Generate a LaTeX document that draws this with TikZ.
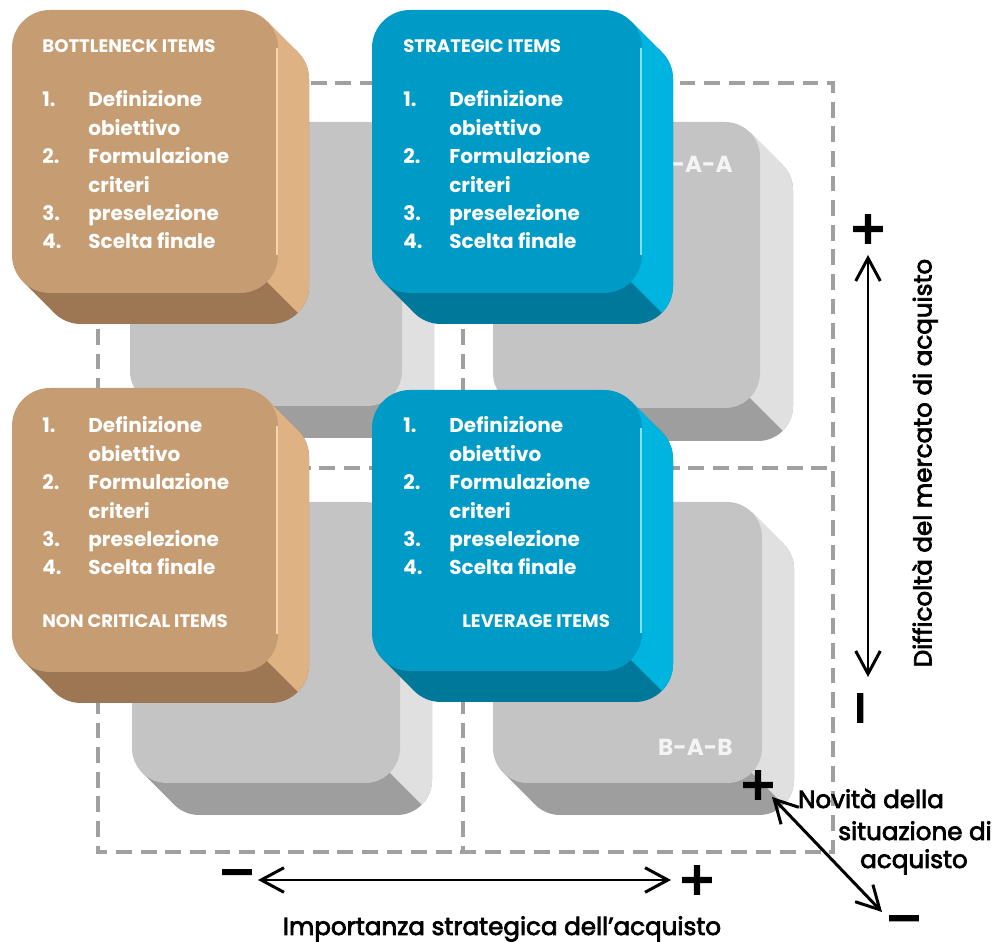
\documentclass[tikz,border=0pt]{standalone}
\usepackage{fontspec}
\setmainfont{Poppins}
\newfontfamily\symfont[FakeBold=2]{DejaVu Sans}
\newfontfamily\axfont[FakeBold=3]{Poppins}
\usetikzlibrary{arrows.meta}
\definecolor{tanF}{HTML}{C69C72}
\definecolor{tanR}{HTML}{DEB283}
\definecolor{tanB}{HTML}{9D7753}
\definecolor{tanH}{HTML}{F3D6B0}
\definecolor{bluF}{HTML}{009AC6}
\definecolor{bluR}{HTML}{00B4E0}
\definecolor{bluB}{HTML}{00789A}
\definecolor{bluH}{HTML}{7FE3FF}
\definecolor{gryF}{HTML}{C4C4C4}
\definecolor{gryR}{HTML}{E0E0E0}
\definecolor{gryB}{HTML}{9E9E9E}
\definecolor{dashgray}{HTML}{A0A0A0}
\definecolor{glbl}{HTML}{F4F4F4}
% 3D rounded box: x1,y1,x2,y2, face, right side, bottom side, radius(px), depth(px)
\newcommand\cubebox[9]{%
  \fill[#7, rounded corners=#8*0.02cm] ({#1+#9},{#2+#9}) rectangle ({#3+#9},{#4+#9});
  \fill[#7] ({#3-0.2929*#8},{#2+0.2929*#8}) -- ++(#9,#9)
     -- ({#1+0.2929*#8+#9},{#4-0.2929*#8+#9}) -- ({#1+0.2929*#8},{#4-0.2929*#8}) -- cycle;
  \begin{scope}
    \clip ({#3-1000},{#4-1000}) -- ({#3+1000},{#4+1000}) -- ({#3+1000},{#4-1000}) -- cycle;
    \fill[#6, rounded corners=#8*0.02cm] ({#1+#9},{#2+#9}) rectangle ({#3+#9},{#4+#9});
    \fill[#6] ({#3-0.2929*#8},{#2+0.2929*#8}) -- ++(#9,#9)
       -- ({#1+0.2929*#8+#9},{#4-0.2929*#8+#9}) -- ({#1+0.2929*#8},{#4-0.2929*#8}) -- cycle;
  \end{scope}
  \fill[#5, rounded corners=#8*0.02cm] (#1,#2) rectangle (#3,#4);
}
% list of steps: x, first baseline y, name prefix
\newcommand\steplist[3]{%
  \foreach \n/\r in {1./0,2./2,3./4,4./5}
    \node[itemtxt, anchor=base west] (#3n\r) at (#1,{#2+28.4*\r}) {\n};
  \foreach \t [count=\r from 0] in {Definizione,obiettivo,Formulazione,criteri,preselezione,Scelta finale}
    \node[itemtxt, anchor=base west] (#3t\r) at ({#1+46},{#2+28.4*\r}) {\t};
}
\begin{document}
\begin{tikzpicture}[x=0.02cm,y=-0.02cm,
  itemtxt/.style={font=\bfseries\fontsize{11.4}{13}\selectfont, text=white, inner sep=0pt},
  ttl/.style={font=\bfseries\fontsize{10.3}{12}\selectfont, text=white, inner sep=0pt},
  graylbl/.style={font=\bfseries\fontsize{13.2}{15}\selectfont, text=glbl, inner sep=0pt},
  axlbl/.style={font=\axfont\fontsize{14}{16}\selectfont, text=black, inner sep=0pt},
  sign/.style={font=\symfont\bfseries\fontsize{26}{28}\selectfont, text=black, inner sep=0pt},
  dashline/.style={draw=dashgray, line width=1.8pt, dash pattern=on 9pt off 5pt},
  axarrow/.style={line width=1.7pt, {Straight Barb[length=13pt,width=14pt,line width=1.7pt]}-{Straight Barb[length=13pt,width=14pt,line width=1.7pt]}},
  hline/.style={line width=1pt}
]
\useasboundingbox (0,0) rectangle (992,942);
\fill[white] (0,0) rectangle (992,942);

% dashed grid
\draw[dashline] (98,83) rectangle (833,852);
\draw[dashline] (463,83) -- (463,852);
\draw[dashline] (98,468) -- (833,468);

% gray boxes
\cubebox{130}{122}{402}{406}{gryF}{gryR}{gryB}{35}{32}
\cubebox{493}{122}{760}{408}{gryF}{gryR}{gryB}{35}{33}
\cubebox{132}{502}{400}{783}{gryF}{gryR}{gryB}{35}{32}
\cubebox{493}{502}{762}{783}{gryF}{gryR}{gryB}{35}{32}
\node[graylbl, anchor=base east] (baa) at (733,173) {B-A-A};
\node[graylbl, anchor=base east] (bab) at (733,756) {B-A-B};

% coloured boxes
\cubebox{12}{10}{278}{293}{tanF}{tanR}{tanB}{38}{31}
\draw[tanH, hline] (277,48) -- (277,255);
\cubebox{372}{10}{642}{293}{bluF}{bluR}{bluB}{38}{31}
\draw[bluH, hline] (641,48) -- (641,255);
\cubebox{12}{388}{278}{672}{tanF}{tanR}{tanB}{38}{31}
\draw[tanH, hline] (277,426) -- (277,634);
\cubebox{372}{390}{642}{671}{bluF}{bluR}{bluB}{38}{31}
\draw[bluH, hline] (641,428) -- (641,633);

% texts in boxes
\node[ttl, anchor=base west] (bott) at (42,53) {BOTTLENECK ITEMS};
\node[ttl, anchor=base west] (strat) at (403,53) {STRATEGIC ITEMS};
\node[ttl, anchor=base west] (noncr) at (42,628) {NON CRITICAL ITEMS};
\node[ttl, anchor=base west] (lever) at (462,628) {LEVERAGE ITEMS};
\steplist{42}{107}{a}
\steplist{403}{107}{b}
\steplist{42}{433}{c}
\steplist{403}{433}{d}

% vertical axis
\node[sign] (vplus) at (868,229) {+};
\node[sign, rotate=90] (vminus) at (866,708) {−};
\coordinate (vtop) at (868,255);
\coordinate (vbot) at (868,677);
\draw[axarrow] (vtop) -- (vbot);
\node[axlbl, rotate=90] (vlab) at (925,463) {Difficoltà del mercato di acquisto};

% horizontal axis
\node[sign] (hminus) at (237,878) {−};
\node[sign] (hplus) at (697,880) {+};
\coordinate (hleft) at (258,880);
\coordinate (hright) at (671,880);
\draw[axarrow] (hleft) -- (hright);
\node[axlbl, anchor=base] (hlab) at (502,935) {Importanza strategica dell’acquisto};

% diagonal axis
\node[sign] (dplus) at (758,785) {+};
\node[sign] (dminus) at (904,924) {−};
\coordinate (dtop) at (772,797);
\coordinate (dbot) at (882,912);
\draw[axarrow] (dtop) -- (dbot);
\node[axlbl, anchor=base] (nov1) at (871,808) {Novità della};
\node[axlbl, anchor=base] (nov2) at (915,840) {situazione di};
\node[axlbl, anchor=base] (nov3) at (914,868) {acquisto};
\end{tikzpicture}
\end{document}
